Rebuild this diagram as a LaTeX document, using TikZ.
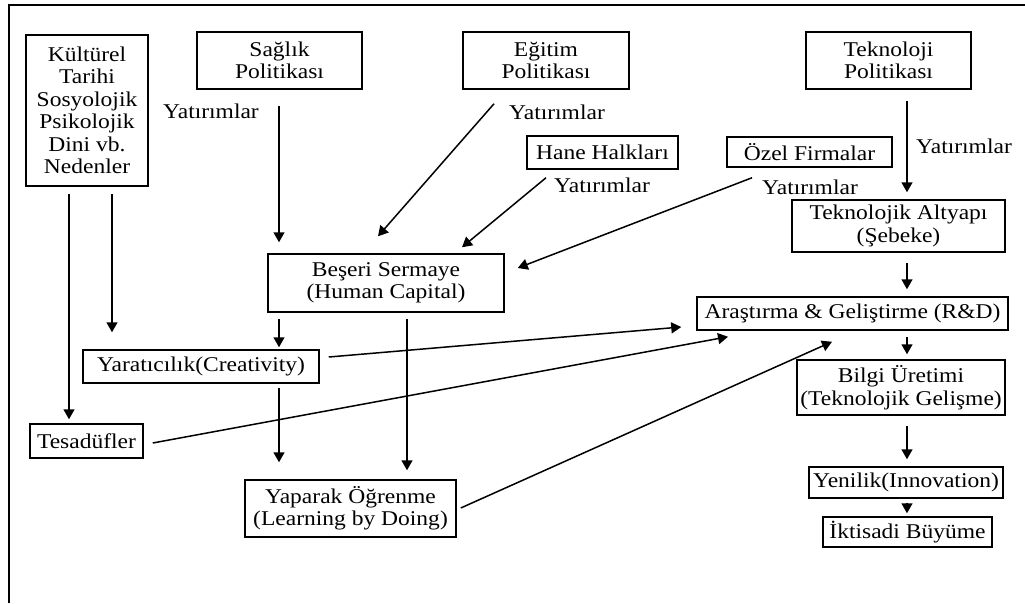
\documentclass[tikz,border=0pt]{standalone}
\usepackage{fontspec}
\setmainfont{Liberation Serif}[FakeStretch=1.12]
\usetikzlibrary{arrows.meta,calc}
\begin{document}
\begin{tikzpicture}[x=1pt,y=-1pt,
  box/.style={draw, line width=1.5pt, inner sep=0pt, align=center, font=\fontsize{21}{22.5}\selectfont},
  lbl/.style={inner sep=0pt, font=\fontsize{21}{22.5}\selectfont},
  arr/.style={line width=1.5pt, -{Triangle[length=10pt,width=11pt]}}]
\useasboundingbox (0,0) rectangle (1025,603);
\draw[line width=2.5pt] (9,603) -- (9,5) -- (1025,5);

\node[box, minimum width=122pt, minimum height=151pt] (kult) at (87,110.5) {Kültürel\\Tarihi\\Sosyolojik\\Psikolojik\\Dini vb.\\Nedenler};
\node[box, minimum width=165pt, minimum height=57pt] (saglik) at (279.5,60.5) {Sağlık\\Politikası};
\node[box, minimum width=166pt, minimum height=57pt] (egitim) at (546,60.5) {Eğitim\\Politikası};
\node[box, minimum width=165pt, minimum height=57pt] (tekpol) at (888.5,60.5) {Teknoloji\\Politikası};
\node[box, minimum width=151pt, minimum height=33pt] (hane) at (602.5,152.5) {Hane Halkları};
\node[box, minimum width=165pt, minimum height=30pt] (ozel) at (809.5,152) {Özel Firmalar};
\node[box, minimum width=213pt, minimum height=52pt] (tekalt) at (898.5,226) {Teknolojik Altyapı\\(Şebeke)};
\node[box, minimum width=311pt, minimum height=33pt] (arge) at (852.5,313.5) {Araştırma \& Geliştirme (R\&D)};
\node[box, minimum width=208pt, minimum height=55pt] (bilgi) at (901,387.5) {Bilgi Üretimi\\(Teknolojik Gelişme)};
\node[box, minimum width=194pt, minimum height=31pt] (yenilik) at (906,482.5) {Yenilik(Innovation)};
\node[box, minimum width=169pt, minimum height=30pt] (iktisat) at (907.5,532) {İktisadi Büyüme};
\node[box, minimum width=236pt, minimum height=58pt] (beseri) at (386,283) {Beşeri Sermaye\\(Human Capital)};
\node[box, minimum width=236pt, minimum height=33pt] (yarat) at (201,366.5) {Yaratıcılık(Creativity)};
\node[box, minimum width=113pt, minimum height=34pt] (tesad) at (86.5,441) {Tesadüfler};
\node[box, minimum width=211pt, minimum height=57pt] (yaparak) at (350.5,508.5) {Yaparak Öğrenme\\(Learning by Doing)};

\node[lbl] (y1) at (211,111) {Yatırımlar};
\node[lbl] (y2) at (557,112) {Yatırımlar};
\node[lbl] (y3) at (602,185) {Yatırımlar};
\node[lbl] (y4) at (810,187) {Yatırımlar};
\node[lbl] (y5) at (964,146) {Yatırımlar};

\coordinate (x69) at (69,0);
\coordinate (x112) at (112,0);
\coordinate (x279) at (279,0);
\coordinate (x407) at (407,0);
\coordinate (x907) at (907,0);

\draw[arr, shorten <=7pt, shorten >=4pt] (kult.south -| x69) -- (tesad.north -| x69);
\draw[arr, shorten <=7pt, shorten >=17pt] (kult.south -| x112) -- (yarat.north -| x112);
\draw[arr, shorten <=16pt, shorten >=11pt] (saglik.south -| x279) -- (beseri.north -| x279);
\draw[arr, shorten <=6pt, shorten >=2pt] (beseri.south -| x279) -- (yarat.north -| x279);
\draw[arr, shorten <=6pt, shorten >=9pt] (beseri.south -| x407) -- (yaparak.north -| x407);
\draw[arr, shorten <=4pt, shorten >=17pt] (yarat.south -| x279) -- (yaparak.north -| x279);
\draw[arr, shorten <=11pt, shorten >=7pt] (tekpol.south -| x907) -- (tekalt.north -| x907);
\draw[arr, shorten <=10pt, shorten >=7pt] (tekalt.south -| x907) -- (arge.north -| x907);
\draw[arr, shorten <=6pt, shorten >=5pt] (arge.south -| x907) -- (bilgi.north -| x907);
\draw[arr, shorten <=10pt, shorten >=7pt] (bilgi.south -| x907) -- (yenilik.north -| x907);
\draw[arr, shorten <=4pt, shorten >=3pt] (yenilik.south -| x907) -- (iktisat.north -| x907);

\draw[arr] ([shift={(-52,14)}]egitim.south) -- ([shift={(-8,-17)}]beseri.north);
\draw[arr] ([shift={(-56.5,8)}]hane.south) -- ([shift={(76,-6)}]beseri.north);
\draw[arr] ([shift={(-57.5,10)}]ozel.south) -- ([shift={(13,-15)}]beseri.east);
\draw[arr] ([shift={(9,-9.5)}]yarat.east) -- ([shift={(-15,13.5)}]arge.west);
\draw[arr] ([shift={(9,2)}]tesad.east) -- ([shift={(-124.5,6)}]arge.south);
\draw[arr] ([shift={(4,-0.5)}]yaparak.east) -- ([shift={(-20.5,11)}]arge.south);
\end{tikzpicture}
\end{document}
